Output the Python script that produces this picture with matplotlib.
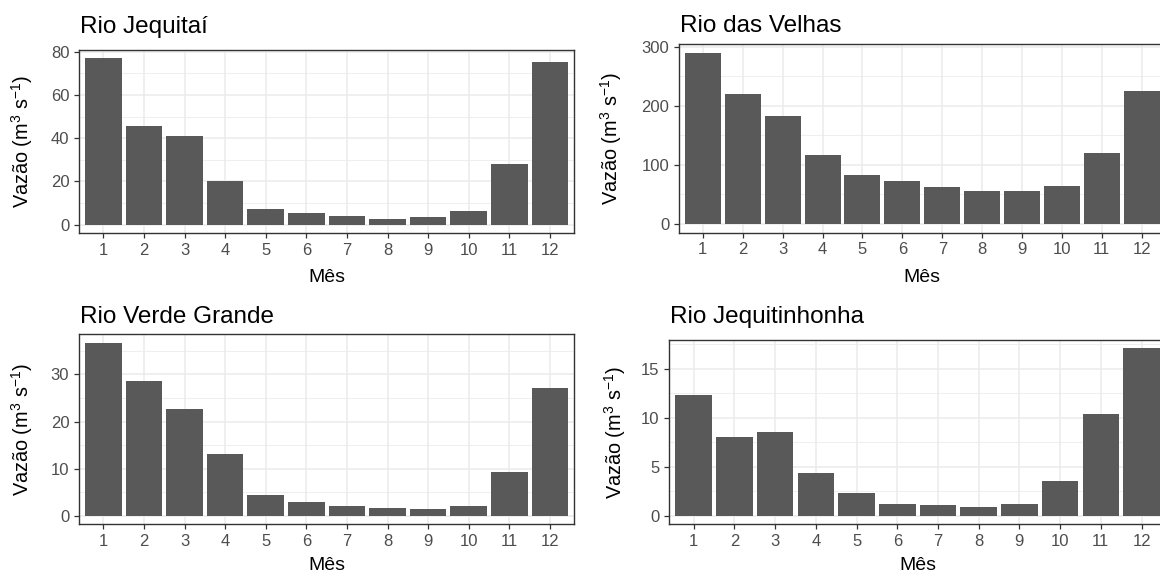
import matplotlib
matplotlib.use("Agg")
import matplotlib.pyplot as plt
from matplotlib.ticker import MultipleLocator

plt.rcParams['font.family'] = ['Liberation Sans', 'DejaVu Sans']
plt.rcParams['mathtext.default'] = 'regular'

W, H = 1160, 578

months = list(range(1, 13))
month_labels = [str(m) for m in months]

titles = ["Rio Jequitaí", "Rio das Velhas", "Rio Verde Grande", "Rio Jequitinhonha"]
jequitai = [77.2, 45.5, 40.9, 20.3, 7.3, 5.4, 4.1, 2.8, 3.4, 6.1, 28.2, 75.3]
velhas = [289.4, 220.4, 182.8, 116.1, 83.6, 71.8, 61.7, 55.0, 55.0, 64.5, 120.6, 225.5]
verde_grande = [36.7, 28.7, 22.7, 13.1, 4.3, 2.9, 2.0, 1.7, 1.35, 2.0, 9.2, 27.1]
jequitinhonha = [12.36, 8.09, 8.53, 4.37, 2.37, 1.25, 1.08, 0.95, 1.25, 3.52, 10.4, 17.07]
series = [jequitai, velhas, verde_grande, jequitinhonha]
major_steps = [20, 100, 10, 5]

# panel boxes in pixels: left, right, top, bottom
boxes = [
    (79, 574.3, 49.5, 233.0),
    (678.9, 1165.7, 44.3, 232.5),
    (79, 574.3, 334.3, 524.3),
    (669.3, 1166.0, 340.0, 524.3),
]
title_pos = [(80, 33), (680, 31.7), (80, 323), (670.5, 322.7)]
ylab_x = [22, 611, 22, 615]
xlab_y = [277, 566]

fig = plt.figure(figsize=(W / 100, H / 100), dpi=100)

for i, (vals, title, step) in enumerate(zip(series, titles, major_steps)):
    l, r, t, b = boxes[i]
    ax = fig.add_axes([l / W, 1 - b / H, (r - l) / W, (b - t) / H])
    ax.set_facecolor('white')
    ax.bar(months, vals, width=0.9, color='#595959', zorder=3)
    vmax = max(vals)
    ax.set_ylim(-0.05 * vmax, 1.05 * vmax)
    ax.set_xlim(0.4, 12.6)
    ax.set_xticks(months)
    ax.set_xticklabels(month_labels)
    ax.yaxis.set_major_locator(MultipleLocator(step))
    ax.yaxis.set_minor_locator(MultipleLocator(step / 2))
    ax.grid(which='major', color='#EBEBEB', linewidth=1.1, zorder=0)
    ax.grid(which='minor', axis='y', color='#EBEBEB', linewidth=0.55, zorder=0)
    ax.set_axisbelow(True)
    ax.tick_params(which='major', direction='out', length=3.5, width=0.9,
                   color='#333333', labelcolor='#4D4D4D', labelsize=12, pad=3.5)
    ax.tick_params(which='minor', length=0)
    for s in ax.spines.values():
        s.set_color('#333333')
        s.set_linewidth(1.0)
    cy = (t + b) / 2
    xc = l + (r - l) * 6.1 / 12.2
    fig.text(title_pos[i][0] / W, 1 - title_pos[i][1] / H, title,
             fontsize=17.5, color='black', ha='left', va='baseline')
    fig.text(ylab_x[i] / W, 1 - cy / H, 'Vazão (m$^{3}$ s$^{-1}$)',
             rotation=90, fontsize=14.3, color='black', ha='center', va='center')
    fig.text(xc / W, 1 - xlab_y[i // 2] / H, 'Mês', fontsize=14, color='black',
             ha='center', va='center')

fig.savefig('out.png', dpi=100, facecolor='white')
